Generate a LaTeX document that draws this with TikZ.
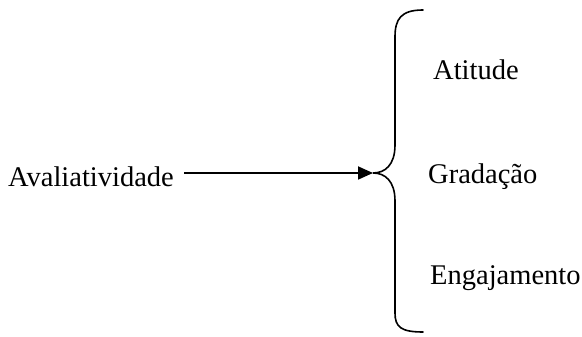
\documentclass[tikz,border=0pt]{standalone}
\usepackage{fontspec}
\setmainfont{Liberation Serif}
\usetikzlibrary{arrows.meta}

\begin{document}
\begin{tikzpicture}[x=1pt,y=1pt]
						\tikzstyle{label}=[font=\fontsize{28.5}{34}\selectfont,inner sep=0pt]
						\tikzstyle{brace}=[line width=1.6pt,line cap=round]
						\useasboundingbox (0,0) rectangle (582,337);
						\node[label,anchor=west](aval) at (8,160) {Avaliatividade};
						\node[label,anchor=west](atit) at (433,267) {Atitude};
						\node[label,anchor=west](grad) at (428,160) {Gradação};
						\node[label,anchor=west](enga) at (430,59) {Engajamento};
						\coordinate (tip) at (373,164);
						\draw[line width=1.8pt,-{Triangle[length=15pt,width=13pt]}](aval.east) ++(10,4) -- (tip);
						\draw[brace] (423,327) .. controls (401,327) and (395,318) .. (395,300) -- (395,192) .. controls (395,172) and (385,164) .. (tip) .. controls (385,164) and (395,156) .. (395,136) -- (395,24) .. controls (395,10) and (401,5) .. (423,5);
					\end{tikzpicture}
\end{document}
